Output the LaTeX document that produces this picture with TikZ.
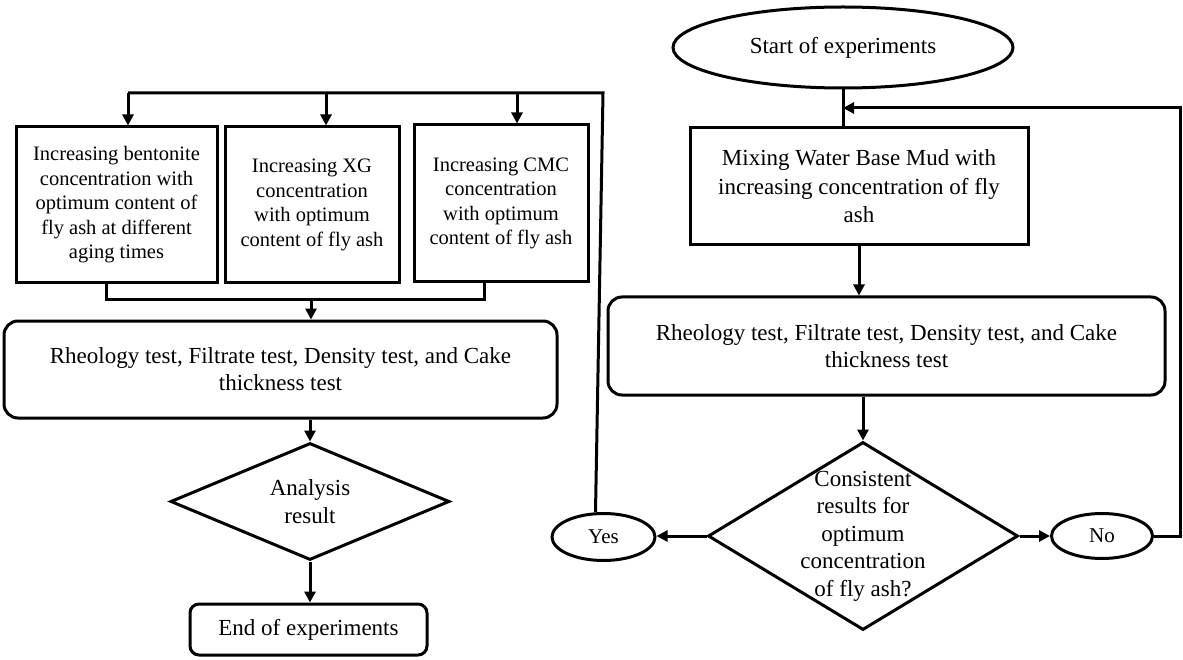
\documentclass[tikz,border=0pt]{standalone}
\usepackage{fontspec}
\setmainfont{Liberation Serif}
\usetikzlibrary{arrows.meta,shapes.geometric}
\begin{document}
\begin{tikzpicture}[x=1pt,y=-1pt,line width=3pt,
  box/.style={draw,rectangle,inner sep=0pt,align=center,font=\fontsize{20.5}{24.5}\selectfont},
  rbox/.style={draw,rectangle,rounded corners=14pt,inner sep=0pt,align=center,font=\fontsize{23}{27}\selectfont},
  ebox/.style={draw,rectangle,rounded corners=9pt,inner sep=0pt,align=center,font=\fontsize{23}{27}\selectfont},
  oval/.style={draw,ellipse,inner sep=0pt,align=center},
  dia/.style={draw,diamond,inner sep=0pt},
  dtext/.style={align=center,font=\fontsize{23}{27.5}\selectfont},
  arr/.style={-{Triangle[length=11pt,width=11pt]}}]
\useasboundingbox (0,0) rectangle (1183,660);
% left column
\node[box,minimum width=201pt,minimum height=156pt] (b1) at (116.5,205) {Increasing bentonite\\concentration with\\optimum content of\\fly ash at different\\aging times};
\node[box,minimum width=174pt,minimum height=156pt] (b2) at (312,205) {Increasing XG\\concentration\\with optimum\\content of fly ash};
\node[box,minimum width=174pt,minimum height=157pt] (b3) at (501,203.5) {Increasing CMC\\concentration\\with optimum\\content of fly ash};
\node[rbox,minimum width=553pt,minimum height=97pt] (r1) at (280.5,369.5) {Rheology test, Filtrate test, Density test, and Cake\\thickness test};
\node[dia,minimum width=279pt,minimum height=117pt] (d1) at (310,501.5) {};
\node[dtext] (d1t) at (d1.center) {Analysis\\result};
\node[ebox,minimum width=237pt,minimum height=51pt] (end) at (308.5,629.5) {End of experiments};
% right column
\node[oval,minimum width=340pt,minimum height=81pt,font=\fontsize{23}{27}\selectfont] (start) at (843,47.5) {Start of experiments};
\node[box,minimum width=338pt,minimum height=117pt,font=\fontsize{23}{28.5}\selectfont] (mix) at (859,186.5) {Mixing Water Base Mud with\\increasing concentration of fly\\ash};
\node[rbox,minimum width=557pt,minimum height=98pt] (r2) at (886.5,346) {Rheology test, Filtrate test, Density test, and Cake\\thickness test};
\node[dia,minimum width=310pt,minimum height=188pt] (d2) at (863,536) {};
\node[dtext] (d2t) at (d2.center) {Consistent\\results for\\optimum\\concentration\\of fly ash?};
\node[oval,minimum width=103pt,minimum height=47pt,font=\fontsize{21}{25}\selectfont] (yes) at (603.5,537) {Yes};
\node[oval,minimum width=101pt,minimum height=45pt,font=\fontsize{21}{25}\selectfont] (no) at (1102,536) {No};
% coordinates
\coordinate (tl) at (128,93);
\coordinate (tm) at (326,93);
\coordinate (tn) at (517,93);
\coordinate (tr) at (603,93);
\coordinate (bl) at (106,300);
\coordinate (bm) at (311,300);
\coordinate (br) at (484,300);
\coordinate (fr) at (1180,108);
\coordinate (fl) at (843,108);
% left connectors
\draw ([xshift=-8pt]yes.north) -- (tr) -- (tl);
\draw[arr] (tl) -- (tl |- b1.north);
\draw[arr] (tm) -- (tm |- b2.north);
\draw[arr] (tn) -- (tn |- b3.north);
\draw (bl |- b1.south) -- (bl) -- (br) -- (br |- b3.south);
\draw[arr] (bm) -- (bm |- r1.north);
\draw[arr] (d1.north |- r1.south) -- (d1.north);
\draw[arr] (d1.south) -- (d1.south |- end.north);
% right connectors
\draw (start.south) -- (start.south |- mix.north);
\draw[arr] (mix.south) -- (mix.south |- r2.north);
\draw[arr] (d2.north |- r2.south) -- (d2.north);
\draw[arr] (d2.west) -- (d2.west -| yes.east);
\draw[arr] (d2.east) -- (no.west);
\draw[arr] (no.east) -- (no.east -| fr) -- (fr) -- (fl);
\end{tikzpicture}
\end{document}
